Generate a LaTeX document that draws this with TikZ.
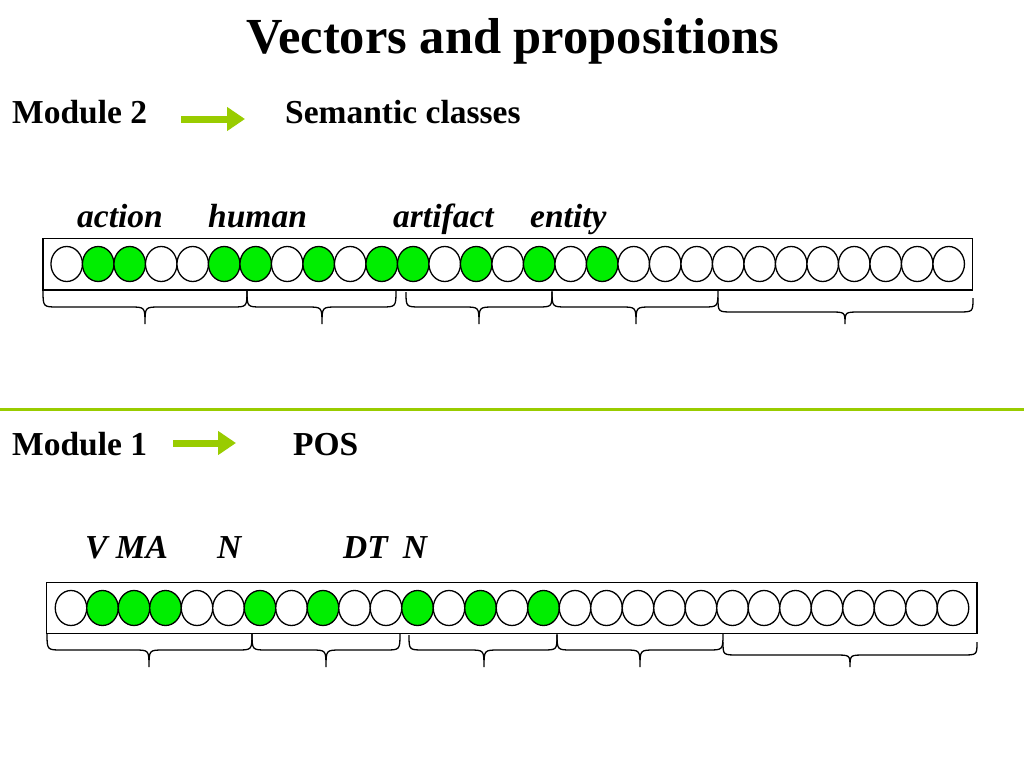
\documentclass[tikz,border=0pt]{standalone}
\usepackage{fontspec}
\setmainfont{Liberation Serif}
\usetikzlibrary{shapes.geometric,arrows.meta}
\definecolor{limeline}{RGB}{153,204,0}
\definecolor{bitgreen}{RGB}{0,238,0}
\newcommand{\bracepath}[6]{%
  \draw[bracestyle] (#1,#4) .. controls (#1,#5) .. (#1+15,#5) -- (#3-15,#5)
    .. controls (#3,#5) .. (#3,#6) .. controls (#3,#5) .. (#3+15,#5)
    -- (#2-15,#5) .. controls (#2,#5) .. (#2,#4);}
\begin{document}
\begin{tikzpicture}[x=1pt,y=-1pt,
  bit/.style={ellipse,draw,line width=1.3pt,minimum width=31.5pt,minimum height=35pt,inner sep=0pt},
  on/.style={bit,fill=bitgreen},
  off/.style={bit,fill=white},
  framestyle/.style={draw,line width=1.3pt},
  bracestyle/.style={line width=1.3pt},
  lbl/.style={font=\fontsize{33.5}{36}\selectfont\bfseries\itshape,inner sep=0pt,anchor=base west},
  head/.style={font=\fontsize{33.5}{36}\selectfont\bfseries,inner sep=0pt,anchor=base west},
  garrow/.style={draw=limeline,line width=7pt,-{Triangle[length=18pt,width=23pt]}},
  ]
\useasboundingbox (0,0) rectangle (1024,768);
% title
\node[font=\fontsize{50.5}{54}\selectfont\bfseries,inner sep=0pt,anchor=base] (title) at (513,54) {Vectors and propositions};
% module 2
\node[head] (m2) at (12,123) {Module 2};
\node[head] (sem) at (285,123) {Semantic classes};
\coordinate (a2s) at (181,119);
\coordinate (a2e) at (245,119);
\draw[garrow] (a2s) -- (a2e);
% labels top
\node[lbl] (l1) at (77,227) {action};
\node[lbl] (l2) at (208,227) {human};
\node[lbl] (l3) at (393,227) {artifact};
\node[lbl] (l4) at (530,227) {entity};
% top frame
\draw[framestyle] (43,238.5) rectangle (972.5,290);
\foreach \i/\s in {1/off,2/on,3/on,4/off,5/off,6/on,7/on,8/off,9/on,10/off,11/on,12/on,13/off,14/on,15/off,16/on,17/off,18/on,19/off,20/off,21/off,22/off,23/off,24/off,25/off,26/off,27/off,28/off,29/off}{
  \node[\s] (t\i) at ({66.7+(\i-1)*31.5},264) {};
}
\bracepath{43}{247}{145}{290}{307}{324}
\bracepath{247}{396}{322}{290}{307}{324}
\bracepath{406}{552}{479}{292}{307}{324}
\bracepath{552}{718}{636}{290}{307}{324}
\bracepath{718}{973}{845}{298}{312}{324}
% separator
\draw[limeline,line width=3pt] (0,409) -- (1024,409);
% module 1
\node[head] (m1) at (12,455) {Module 1};
\node[head] (pos) at (293,455) {POS};
\coordinate (a1s) at (173,443);
\coordinate (a1e) at (236,443);
\draw[garrow] (a1s) -- (a1e);
% labels bottom
\node[lbl] (k1) at (85,558) {V MA};
\node[lbl] (k2) at (217,558) {N};
\node[lbl] (k3) at (343,558) {DT\hspace{0.45em}N};
% bottom frame
\draw[framestyle] (46.7,582.5) rectangle (977,633.3);
\foreach \i/\s in {1/off,2/on,3/on,4/on,5/off,6/off,7/on,8/off,9/on,10/off,11/off,12/on,13/off,14/on,15/off,16/on,17/off,18/off,19/off,20/off,21/off,22/off,23/off,24/off,25/off,26/off,27/off,28/off,29/off}{
  \node[\s] (b\i) at ({71+(\i-1)*31.5},608) {};
}
\bracepath{47}{252}{149}{633}{650}{667}
\bracepath{252}{400}{326}{633}{650}{667}
\bracepath{409}{557}{484}{635}{650}{667}
\bracepath{557}{723}{640}{633}{650}{667}
\bracepath{723}{977}{850}{642}{655}{667}
\end{tikzpicture}
\end{document}
